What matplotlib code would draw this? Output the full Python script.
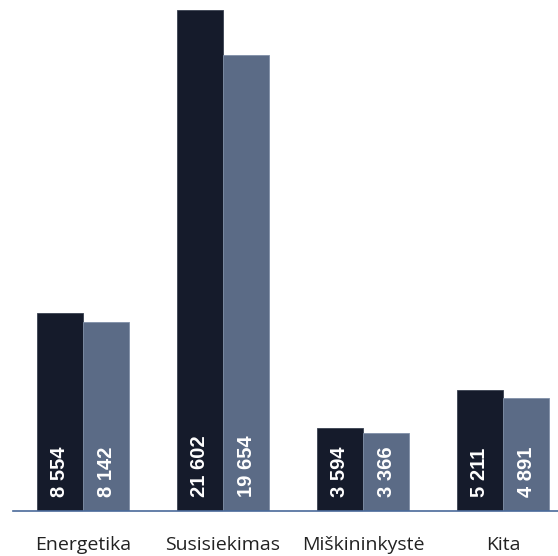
import numpy as np
import matplotlib
matplotlib.use("Agg")
import matplotlib.pyplot as plt

categories = ["Energetika", "Susisiekimas", "Miškininkystė", "Kita"]
series_a = [8554, 21602, 3594, 5211]
series_b = [8142, 19654, 3366, 4891]
labels_a = ["8 554", "21 602", "3 594", "5 211"]
labels_b = ["8 142", "19 654", "3 366", "4 891"]

DARK = "#151b2b"
LIGHT = "#5b6b86"

fig = plt.figure(figsize=(5.58, 5.56), dpi=100)
ax = fig.add_axes([13 / 558, 45 / 556, 545 / 558, 511 / 556])

x = np.arange(len(categories))
w = 0.33
ba = ax.bar(x - w / 2, series_a, w, color=DARK, edgecolor="#3a4150", linewidth=0.6)
bb = ax.bar(x + w / 2, series_b, w, color=LIGHT, edgecolor="#8090a8", linewidth=0.6)

for bars, labs in ((ba, labels_a), (bb, labels_b)):
    for r, t in zip(bars, labs):
        ax.text(r.get_x() + r.get_width() / 2, 600, t, rotation=90,
                ha="center", va="bottom", color="white", fontsize=14.5,
                fontweight="bold", family="Liberation Sans")

ax.set_xlim(-0.5, -0.5 + 545 / 140)
ax.set_ylim(0, 21602 * 511 / 501)
ax.set_yticks([])
ax.set_xticks(x)
ax.set_xticklabels(categories, fontsize=14, family="Open Sans", color="#222222")
ax.tick_params(axis="x", length=0, pad=18)
for s in ("top", "right", "left"):
    ax.spines[s].set_visible(False)
ax.spines["bottom"].set_color("#4a6a9a")
ax.spines["bottom"].set_linewidth(1.2)

fig.savefig("out.png", dpi=100)
